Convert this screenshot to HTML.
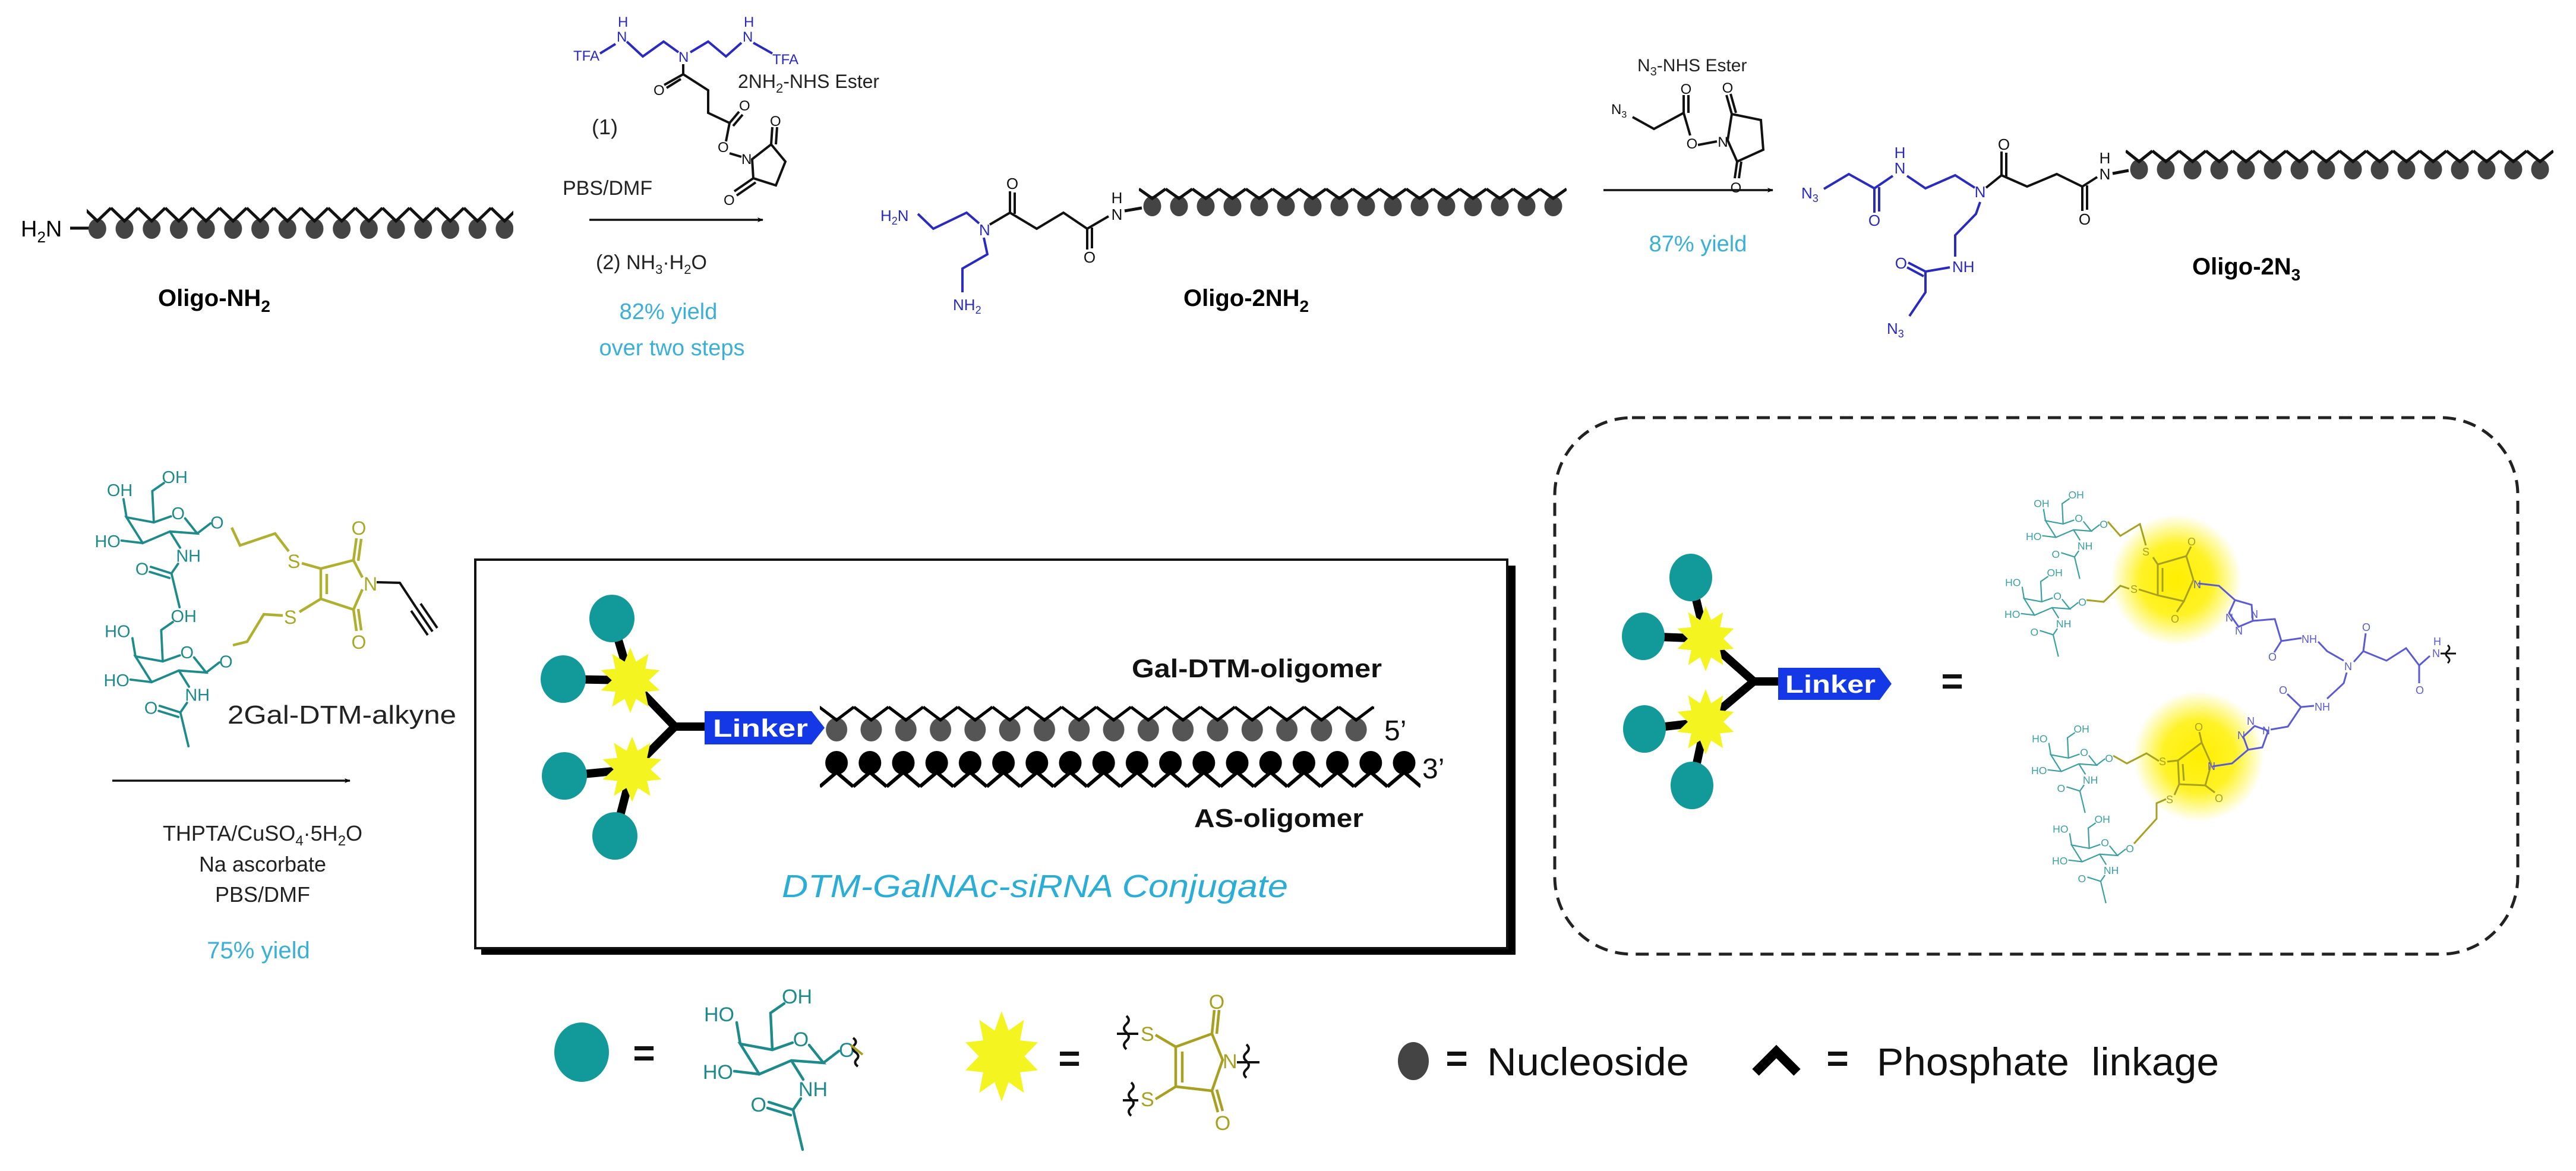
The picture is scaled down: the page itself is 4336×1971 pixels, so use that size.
<!DOCTYPE html>
<html><head><meta charset="utf-8"><style>
html,body{margin:0;padding:0;background:#fff;}
svg{display:block;}
text{font-family:"Liberation Sans",Arial,sans-serif;}
</style></head><body>
<svg width="4336" height="1971" viewBox="0 0 4336 1971" xmlns="http://www.w3.org/2000/svg">
<defs>
<pattern id="c1" patternUnits="userSpaceOnUse" x="141" y="0" width="45.7" height="1971">
<ellipse cx="22.85" cy="385" rx="15" ry="17" fill="#444"/>
<polyline points="0,350 22.85,372 45.7,350" fill="none" stroke="#111" stroke-width="5"/>
</pattern>
<pattern id="c2" patternUnits="userSpaceOnUse" x="1917" y="0" width="45" height="1971">
<ellipse cx="22.5" cy="347" rx="15" ry="17" fill="#444"/>
<polyline points="0,318 22.5,334 45,318" fill="none" stroke="#111" stroke-width="5"/>
</pattern>
<pattern id="c3" patternUnits="userSpaceOnUse" x="3578" y="0" width="45" height="1971">
<ellipse cx="22.5" cy="285" rx="15" ry="17" fill="#444"/>
<polyline points="0,254 22.5,272 45,254" fill="none" stroke="#111" stroke-width="5"/>
</pattern>
<pattern id="c4" patternUnits="userSpaceOnUse" x="1379" y="0" width="58.3" height="1971">
<ellipse cx="29.15" cy="1228" rx="18" ry="20" fill="#555"/>
<polyline points="0,1190 29.15,1212 58.3,1190" fill="none" stroke="#000" stroke-width="5"/>
</pattern>
<pattern id="c5" patternUnits="userSpaceOnUse" x="1380" y="0" width="56.2" height="1971">
<ellipse cx="28.1" cy="1284" rx="19" ry="20" fill="#000"/>
<polyline points="0,1324 28.1,1300 56.2,1324" fill="none" stroke="#000" stroke-width="6"/>
</pattern>
<radialGradient id="glow">
<stop offset="0" stop-color="#ffee00" stop-opacity="1"/>
<stop offset="0.55" stop-color="#fff000" stop-opacity="0.85"/>
<stop offset="1" stop-color="#fff200" stop-opacity="0"/>
</radialGradient>
<marker id="ah" markerWidth="10" markerHeight="8" refX="9" refY="4" orient="auto" markerUnits="userSpaceOnUse" viewBox="0 0 10 8">
<path d="M0,0 L10,4 L0,8 L2.5,4 Z" fill="#000"/>
</marker>
</defs>

<!-- ===== Top row ===== -->
<text x="35" y="398" font-size="38">H<tspan font-size="26" dy="10">2</tspan><tspan dy="-10">N</tspan></text>
<line x1="118" y1="384" x2="150" y2="384" stroke="#111" stroke-width="5"/>
<rect x="146" y="340" width="718" height="70" fill="url(#c1)"/>
<text x="266" y="515" font-size="40" font-weight="bold">Oligo-NH<tspan font-size="28" dy="10">2</tspan></text>

<!-- 2NH2-NHS ester -->
<g fill="#2a2ac0" font-size="24">
<text x="965" y="102">TFA</text><text x="1038" y="70">N</text><text x="1040" y="45">H</text>
<text x="1142" y="104">N</text>
<text x="1250" y="70">N</text><text x="1252" y="45">H</text><text x="1300" y="108">TFA</text>
</g>
<g stroke="#2a2ac0" stroke-width="4" fill="none">
<polyline points="1010,90 1036,74"/>
<polyline points="1055,70 1082,95 1117,70 1142,88"/>
<polyline points="1162,88 1192,70 1222,95 1248,72"/>
<polyline points="1268,72 1300,90"/>
</g>
<g stroke="#111" stroke-width="4" fill="none">
<polyline points="1150,108 1150,125 1192,152 1192,190 1228,207"/>
<line x1="1150" y1="125" x2="1118" y2="143"/><line x1="1146" y1="133" x2="1122" y2="148"/>
<line x1="1228" y1="207" x2="1244" y2="188"/><line x1="1234" y1="212" x2="1250" y2="193"/>
<polyline points="1228,207 1222,238"/>
<polyline points="1228,258 1248,264"/>
<polygon points="1266,268 1298,243 1322,272 1306,312 1268,300"/>
<line x1="1298" y1="243" x2="1300" y2="214"/><line x1="1306" y1="243" x2="1308" y2="214"/>
<line x1="1268" y1="300" x2="1236" y2="322"/><line x1="1272" y1="307" x2="1240" y2="329"/>
</g>
<g fill="#111" font-size="24">
<text x="1100" y="160">O</text><text x="1244" y="186">O</text><text x="1208" y="256">O</text>
<text x="1248" y="276">N</text><text x="1296" y="212">O</text><text x="1218" y="345">O</text>
</g>
<text x="1242" y="148" font-size="32" fill="#222">2NH<tspan font-size="22" dy="8">2</tspan><tspan dy="-8">-NHS Ester</tspan></text>
<text x="996" y="226" font-size="36" fill="#222">(1)</text>
<text x="947" y="328" font-size="34" fill="#222">PBS/DMF</text>
<line x1="992" y1="370" x2="1284" y2="370" stroke="#111" stroke-width="3.5" marker-end="url(#ah)"/>
<text x="1003" y="453" font-size="34" fill="#222">(2) NH<tspan font-size="22" dy="8">3</tspan><tspan dy="-8">·H</tspan><tspan font-size="22" dy="8">2</tspan><tspan dy="-8">O</tspan></text>
<text x="1125" y="537" font-size="38" fill="#3ab0d8" text-anchor="middle">82% yield</text>
<text x="1131" y="598" font-size="38" fill="#3ab0d8" text-anchor="middle">over two steps</text>

<!-- Oligo-2NH2 -->
<g fill="#2a2ac0" font-size="26">
<text x="1482" y="372">H<tspan font-size="18" dy="6">2</tspan><tspan dy="-6">N</tspan></text>
<text x="1648" y="396">N</text>
<text x="1604" y="522">NH<tspan font-size="18" dy="6">2</tspan></text>
</g>
<g stroke="#2a2ac0" stroke-width="4" fill="none">
<polyline points="1545,360 1571,385 1627,358 1648,376"/>
<polyline points="1656,400 1662,428 1620,452 1620,492"/>
</g>
<g stroke="#111" stroke-width="4" fill="none">
<polyline points="1666,378 1700,358 1745,385 1790,358 1830,385 1866,364"/>
<line x1="1700" y1="358" x2="1700" y2="322"/><line x1="1708" y1="360" x2="1708" y2="324"/>
<line x1="1830" y1="385" x2="1830" y2="420"/><line x1="1838" y1="383" x2="1838" y2="418"/>
<line x1="1893" y1="355" x2="1922" y2="350" stroke-width="5"/>
</g>
<g fill="#111" font-size="26">
<text x="1704" y="318" text-anchor="middle">O</text><text x="1834" y="442" text-anchor="middle">O</text>
<text x="1880" y="370" text-anchor="middle">N</text><text x="1880" y="342" text-anchor="middle">H</text>
</g>
<rect x="1917" y="305" width="720" height="70" fill="url(#c2)"/>
<text x="1992" y="515" font-size="40" font-weight="bold">Oligo-2NH<tspan font-size="28" dy="10">2</tspan></text>

<!-- N3-NHS ester -->
<text x="2756" y="120" font-size="30" fill="#222">N<tspan font-size="20" dy="7">3</tspan><tspan dy="-7">-NHS Ester</tspan></text>
<g stroke="#111" stroke-width="4" fill="none">
<polyline points="2748,197 2784,217 2834,190"/>
<line x1="2834" y1="190" x2="2834" y2="160"/><line x1="2842" y1="190" x2="2842" y2="160"/>
<line x1="2834" y1="190" x2="2845" y2="228"/>
<line x1="2858" y1="244" x2="2890" y2="238"/>
<polygon points="2908,236 2915,192 2964,202 2968,252 2924,272"/>
<line x1="2915" y1="192" x2="2906" y2="160"/><line x1="2922" y1="190" x2="2913" y2="158"/>
<line x1="2924" y1="272" x2="2920" y2="300"/><line x1="2931" y1="272" x2="2927" y2="300"/>
</g>
<g fill="#111" font-size="24">
<text x="2712" y="192">N<tspan font-size="16" dy="6">3</tspan></text>
<text x="2838" y="158" text-anchor="middle">O</text><text x="2848" y="250" text-anchor="middle">O</text>
<text x="2900" y="247" text-anchor="middle">N</text><text x="2908" y="156" text-anchor="middle">O</text>
<text x="2922" y="324" text-anchor="middle">O</text>
</g>
<line x1="2699" y1="320" x2="2984" y2="320" stroke="#111" stroke-width="3.5" marker-end="url(#ah)"/>
<text x="2858" y="423" font-size="38" fill="#3ab0d8" text-anchor="middle">87% yield</text>

<!-- Oligo-2N3 -->
<g fill="#2a2ac0" font-size="26">
<text x="3032" y="334">N<tspan font-size="18" dy="6">3</tspan></text>
<text x="3155" y="380" text-anchor="middle">O</text>
<text x="3198" y="292" text-anchor="middle">N</text><text x="3198" y="266" text-anchor="middle">H</text>
<text x="3333" y="332" text-anchor="middle">N</text>
<text x="3286" y="458">NH</text>
<text x="3210" y="452" text-anchor="end">O</text>
<text x="3176" y="562">N<tspan font-size="18" dy="6">3</tspan></text>
</g>
<g stroke="#2a2ac0" stroke-width="4" fill="none">
<polyline points="3070,318 3112,293 3155,317 3186,296"/>
<line x1="3155" y1="317" x2="3155" y2="358"/><line x1="3163" y1="315" x2="3163" y2="356"/>
<polyline points="3210,296 3241,317 3291,295 3324,316"/>
<polyline points="3333,340 3326,360 3291,396 3291,432"/>
<polyline points="3282,450 3241,457 3241,492 3214,532"/>
<line x1="3241" y1="457" x2="3212" y2="442"/><line x1="3238" y1="465" x2="3210" y2="450"/>
</g>
<g stroke="#111" stroke-width="4" fill="none">
<polyline points="3343,316 3369,295 3412,314 3462,293 3505,314 3530,298"/>
<line x1="3369" y1="295" x2="3369" y2="255"/><line x1="3377" y1="297" x2="3377" y2="257"/>
<line x1="3505" y1="314" x2="3505" y2="355"/><line x1="3513" y1="312" x2="3513" y2="353"/>
<line x1="3556" y1="292" x2="3583" y2="287" stroke-width="5"/>
</g>
<g fill="#111" font-size="26">
<text x="3373" y="252" text-anchor="middle">O</text><text x="3509" y="378" text-anchor="middle">O</text>
<text x="3543" y="302" text-anchor="middle">N</text><text x="3543" y="275" text-anchor="middle">H</text>
</g>
<rect x="3578" y="240" width="720" height="70" fill="url(#c3)"/>
<text x="3690" y="462" font-size="40" font-weight="bold">Oligo-2N<tspan font-size="28" dy="10">3</tspan></text>

<!-- ===== 2Gal-DTM-alkyne ===== -->
<g transform="translate(332,898) scale(0.85)">
<g stroke="#1d8b8b" stroke-width="4.5" fill="none" stroke-linecap="round">
<polyline points="-24,-30 0,0 -54,-4 -108,19 -140,-32 -86,-22 -52,-34"/>
<line x1="-140" y1="-32" x2="-146" y2="-68"/><line x1="-108" y1="19" x2="-150" y2="14"/>
<polyline points="-86,-22 -89,-84 -66,-100"/><line x1="-54" y1="-4" x2="-34" y2="28"/>
<polyline points="-38,60 -51,79 -35,146"/>
<line x1="-51" y1="79" x2="-92" y2="66"/><line x1="-55" y1="88" x2="-94" y2="76"/>
<line x1="0" y1="0" x2="26" y2="-20"/></g>
<g fill="#1d8b8b" font-size="34"><text x="-38" y="-28" text-anchor="middle">O</text><text x="-128" y="-74" text-anchor="end">OH</text><text x="-152" y="27" text-anchor="end">HO</text><text x="-70" y="-100">OH</text><text x="-42" y="56">NH</text><text x="-96" y="82" text-anchor="end">O</text><text x="26" y="-10">O</text></g>
</g>
<g transform="translate(347,1132) scale(0.85)">
<g stroke="#1d8b8b" stroke-width="4.5" fill="none" stroke-linecap="round">
<polyline points="-24,-30 0,0 -54,-4 -108,19 -140,-32 -86,-22 -52,-34"/>
<line x1="-140" y1="-32" x2="-146" y2="-68"/><line x1="-108" y1="19" x2="-150" y2="14"/>
<polyline points="-86,-22 -89,-84 -66,-100"/><line x1="-54" y1="-4" x2="-34" y2="28"/>
<polyline points="-38,60 -51,79 -35,146"/>
<line x1="-51" y1="79" x2="-92" y2="66"/><line x1="-55" y1="88" x2="-94" y2="76"/>
<line x1="0" y1="0" x2="26" y2="-20"/></g>
<g fill="#1d8b8b" font-size="34"><text x="-38" y="-28" text-anchor="middle">O</text><text x="-150" y="-70" text-anchor="end">HO</text><text x="-152" y="27" text-anchor="end">HO</text><text x="-70" y="-100">OH</text><text x="-42" y="56">NH</text><text x="-96" y="82" text-anchor="end">O</text><text x="26" y="-10">O</text></g>
</g>
<g stroke="#b0b030" stroke-width="4.5" fill="none">
<polyline points="390,888 404,918 463,898 486,928"/>
<polyline points="508,948 540,957 595,943 610,972"/>
<polyline points="610,992 595,1026 540,1008 540,957"/>
<line x1="550" y1="966" x2="550" y2="1000"/>
<line x1="595" y1="943" x2="600" y2="906"/><line x1="603" y1="944" x2="608" y2="907"/>
<line x1="595" y1="1026" x2="600" y2="1062"/><line x1="603" y1="1025" x2="608" y2="1061"/>
<polyline points="540,1008 504,1030"/>
<polyline points="476,1036 444,1034 416,1080 392,1086"/>
</g>
<g fill="#a8a828" font-size="32">
<text x="484" y="956">S</text><text x="604" y="900" text-anchor="middle">O</text>
<text x="612" y="994">N</text><text x="604" y="1092" text-anchor="middle">O</text>
<text x="478" y="1050">S</text>
</g>
<g stroke="#111" stroke-width="4" fill="none">
<polyline points="634,980 673,981 700,1022"/>
<line x1="700" y1="1022" x2="728" y2="1063"/><line x1="692" y1="1028" x2="720" y2="1069"/><line x1="708" y1="1016" x2="736" y2="1057"/>
</g>
<text x="383" y="1218" font-size="44" fill="#222" textLength="385" lengthAdjust="spacingAndGlyphs">2Gal-DTM-alkyne</text>
<line x1="189" y1="1314" x2="589" y2="1314" stroke="#111" stroke-width="3.5" marker-end="url(#ah)"/>
<g font-size="36" fill="#222" text-anchor="middle">
<text x="442" y="1415">THPTA/CuSO<tspan font-size="24" dy="8">4</tspan><tspan dy="-8">·5H</tspan><tspan font-size="24" dy="8">2</tspan><tspan dy="-8">O</tspan></text>
<text x="442" y="1467">Na ascorbate</text>
<text x="442" y="1518">PBS/DMF</text>
<text x="435" y="1613" fill="#3ab0d8" font-size="40">75% yield</text>
</g>

<!-- ===== Conjugate box ===== -->
<rect x="810" y="952" width="1741" height="655" fill="#000"/>
<rect x="800" y="942" width="1737" height="654" fill="#fff" stroke="#111" stroke-width="4"/>
<g stroke="#000" stroke-width="14" stroke-linecap="round">
<line x1="1030" y1="1041" x2="1061" y2="1145"/><line x1="948" y1="1143" x2="1061" y2="1145"/>
<line x1="950" y1="1306" x2="1064" y2="1295"/><line x1="1035" y1="1407" x2="1064" y2="1295"/>
<polyline points="1061,1145 1136,1223 1064,1295" fill="none"/><line x1="1136" y1="1223" x2="1195" y2="1223"/>
</g>
<g fill="#129a9a">
<ellipse cx="1030" cy="1041" rx="38" ry="40"/><ellipse cx="948" cy="1143" rx="38" ry="40"/>
<ellipse cx="950" cy="1306" rx="38" ry="40"/><ellipse cx="1035" cy="1407" rx="38" ry="40"/>
</g>
<g fill="#f4f420">
<polygon transform="translate(1061,1145) scale(0.52,0.55)" points="0,-100 18.5,-57.1 58.8,-80.9 48.5,-35.3 95.1,-30.9 60,0 95.1,30.9 48.5,35.3 58.8,80.9 18.5,57.1 0,100 -18.5,57.1 -58.8,80.9 -48.5,35.3 -95.1,30.9 -60,0 -95.1,-30.9 -48.5,-35.3 -58.8,-80.9 -18.5,-57.1"/>
<polygon transform="translate(1064,1295) scale(0.52,0.55)" points="0,-100 18.5,-57.1 58.8,-80.9 48.5,-35.3 95.1,-30.9 60,0 95.1,30.9 48.5,35.3 58.8,80.9 18.5,57.1 0,100 -18.5,57.1 -58.8,80.9 -48.5,35.3 -95.1,30.9 -60,0 -95.1,-30.9 -48.5,-35.3 -58.8,-80.9 -18.5,-57.1"/>
</g>
<path d="M1186,1197 H1366 L1388,1225 L1366,1253 H1186 Z" fill="#1438e6"/>
<text x="1200" y="1240" font-size="42" font-weight="bold" fill="#fff" textLength="160" lengthAdjust="spacingAndGlyphs">Linker</text>
<rect x="1380" y="1180" width="933" height="70" fill="url(#c4)"/>
<rect x="1380" y="1260" width="1011" height="75" fill="url(#c5)"/>
<text x="1905" y="1140" font-size="44" font-weight="bold" fill="#111" textLength="421" lengthAdjust="spacingAndGlyphs">Gal-DTM-oligomer</text>
<text x="2330" y="1246" font-size="48" fill="#111">5’</text>
<text x="2394" y="1310" font-size="48" fill="#111">3’</text>
<text x="2010" y="1392" font-size="44" font-weight="bold" fill="#111" textLength="285" lengthAdjust="spacingAndGlyphs">AS-oligomer</text>
<text x="1316" y="1510" font-size="54" font-style="italic" fill="#2aaed8" textLength="852" lengthAdjust="spacingAndGlyphs">DTM-GalNAc-siRNA Conjugate</text>

<!-- ===== Dashed box ===== -->
<rect x="2617" y="703" width="1621" height="903" rx="130" ry="130" fill="none" stroke="#222" stroke-width="5" stroke-dasharray="22 13"/>
<g stroke="#000" stroke-width="14" stroke-linecap="round">
<line x1="2846" y1="972" x2="2871" y2="1075"/><line x1="2766" y1="1071" x2="2871" y2="1075"/>
<line x1="2768" y1="1227" x2="2871" y2="1215"/><line x1="2848" y1="1322" x2="2871" y2="1215"/>
<polyline points="2871,1075 2952,1147 2871,1215" fill="none"/><line x1="2952" y1="1147" x2="3000" y2="1147"/>
</g>
<g fill="#129a9a">
<ellipse cx="2846" cy="972" rx="36" ry="40"/><ellipse cx="2766" cy="1071" rx="36" ry="40"/>
<ellipse cx="2768" cy="1227" rx="36" ry="40"/><ellipse cx="2848" cy="1322" rx="36" ry="40"/>
</g>
<g fill="#f4f420">
<polygon transform="translate(2871,1075) scale(0.5,0.55)" points="0,-100 18.5,-57.1 58.8,-80.9 48.5,-35.3 95.1,-30.9 60,0 95.1,30.9 48.5,35.3 58.8,80.9 18.5,57.1 0,100 -18.5,57.1 -58.8,80.9 -48.5,35.3 -95.1,30.9 -60,0 -95.1,-30.9 -48.5,-35.3 -58.8,-80.9 -18.5,-57.1"/>
<polygon transform="translate(2871,1215) scale(0.5,0.55)" points="0,-100 18.5,-57.1 58.8,-80.9 48.5,-35.3 95.1,-30.9 60,0 95.1,30.9 48.5,35.3 58.8,80.9 18.5,57.1 0,100 -18.5,57.1 -58.8,80.9 -48.5,35.3 -95.1,30.9 -60,0 -95.1,-30.9 -48.5,-35.3 -58.8,-80.9 -18.5,-57.1"/>
</g>
<path d="M2993,1124 H3164 L3184,1151 L3164,1178 H2993 Z" fill="#1438e6"/>
<text x="3005" y="1166" font-size="42" font-weight="bold" fill="#fff" textLength="152" lengthAdjust="spacingAndGlyphs">Linker</text>
<text x="3286" y="1168" font-size="64" font-weight="bold" fill="#111" text-anchor="middle">=</text>

<!-- glows -->
<circle cx="3663" cy="976" r="110" fill="url(#glow)"/>
<circle cx="3701" cy="1273" r="110" fill="url(#glow)"/>

<!-- small sugars -->
<g transform="translate(3520,894) scale(0.55)">
<g stroke="#3aa0a0" stroke-width="4" fill="none"><polyline points="-24,-30 0,0 -54,-4 -108,19 -140,-32 -86,-22 -52,-34"/><line x1="-140" y1="-32" x2="-146" y2="-68"/><line x1="-108" y1="19" x2="-150" y2="14"/><polyline points="-86,-22 -89,-84 -66,-100"/><line x1="-54" y1="-4" x2="-34" y2="28"/><polyline points="-38,60 -51,79 -35,146"/><line x1="-51" y1="79" x2="-92" y2="66"/><line x1="0" y1="0" x2="26" y2="-20"/></g>
<g fill="#3aa0a0" font-size="32"><text x="-38" y="-28" text-anchor="middle">O</text><text x="-128" y="-74" text-anchor="end">OH</text><text x="-152" y="27" text-anchor="end">HO</text><text x="-70" y="-100">OH</text><text x="-42" y="56">NH</text><text x="-96" y="82" text-anchor="end">O</text><text x="26" y="-10">O</text></g></g>
<g transform="translate(3484,1025) scale(0.55)">
<g stroke="#3aa0a0" stroke-width="4" fill="none"><polyline points="-24,-30 0,0 -54,-4 -108,19 -140,-32 -86,-22 -52,-34"/><line x1="-140" y1="-32" x2="-146" y2="-68"/><line x1="-108" y1="19" x2="-150" y2="14"/><polyline points="-86,-22 -89,-84 -66,-100"/><line x1="-54" y1="-4" x2="-34" y2="28"/><polyline points="-38,60 -51,79 -35,146"/><line x1="-51" y1="79" x2="-92" y2="66"/><line x1="0" y1="0" x2="26" y2="-20"/></g>
<g fill="#3aa0a0" font-size="32"><text x="-38" y="-28" text-anchor="middle">O</text><text x="-150" y="-70" text-anchor="end">HO</text><text x="-152" y="27" text-anchor="end">HO</text><text x="-70" y="-100">OH</text><text x="-42" y="56">NH</text><text x="-96" y="82" text-anchor="end">O</text><text x="26" y="-10">O</text></g></g>
<g transform="translate(3529,1288) scale(0.55)">
<g stroke="#3aa0a0" stroke-width="4" fill="none"><polyline points="-24,-30 0,0 -54,-4 -108,19 -140,-32 -86,-22 -52,-34"/><line x1="-140" y1="-32" x2="-146" y2="-68"/><line x1="-108" y1="19" x2="-150" y2="14"/><polyline points="-86,-22 -89,-84 -66,-100"/><line x1="-54" y1="-4" x2="-34" y2="28"/><polyline points="-38,60 -51,79 -35,146"/><line x1="-51" y1="79" x2="-92" y2="66"/><line x1="0" y1="0" x2="26" y2="-20"/></g>
<g fill="#3aa0a0" font-size="32"><text x="-38" y="-28" text-anchor="middle">O</text><text x="-150" y="-70" text-anchor="end">HO</text><text x="-152" y="27" text-anchor="end">HO</text><text x="-70" y="-100">OH</text><text x="-42" y="56">NH</text><text x="-96" y="82" text-anchor="end">O</text><text x="26" y="-10">O</text></g></g>
<g transform="translate(3564,1440) scale(0.55)">
<g stroke="#3aa0a0" stroke-width="4" fill="none"><polyline points="-24,-30 0,0 -54,-4 -108,19 -140,-32 -86,-22 -52,-34"/><line x1="-140" y1="-32" x2="-146" y2="-68"/><line x1="-108" y1="19" x2="-150" y2="14"/><polyline points="-86,-22 -89,-84 -66,-100"/><line x1="-54" y1="-4" x2="-34" y2="28"/><polyline points="-38,60 -51,79 -35,146"/><line x1="-51" y1="79" x2="-92" y2="66"/><line x1="0" y1="0" x2="26" y2="-20"/></g>
<g fill="#3aa0a0" font-size="32"><text x="-38" y="-28" text-anchor="middle">O</text><text x="-150" y="-70" text-anchor="end">HO</text><text x="-152" y="27" text-anchor="end">HO</text><text x="-70" y="-100">OH</text><text x="-42" y="56">NH</text><text x="-96" y="82" text-anchor="end">O</text><text x="26" y="-10">O</text></g></g>

<!-- DTM rings + S linkers -->
<g stroke="#a8a020" stroke-width="3" fill="none">
<polyline points="3548,878 3569,902 3602,882 3612,918"/>
<polyline points="3512,1010 3541,1013 3569,986 3584,991"/>
<polyline points="3557,1272 3580,1285 3613,1268 3634,1281"/>
<polyline points="3592,1420 3630,1378 3630,1352 3646,1345"/>
<polygon points="3632,950 3680,936 3692,976 3676,1012 3632,1002"/>
<line x1="3640" y1="956" x2="3640" y2="996"/>
<line x1="3680" y1="936" x2="3688" y2="920"/><line x1="3676" y1="1012" x2="3664" y2="1030"/>
<line x1="3624" y1="938" x2="3632" y2="950"/><line x1="3600" y1="992" x2="3632" y2="1002"/>
<polygon points="3666,1280 3706,1250 3722,1286 3712,1322 3668,1320"/>
<line x1="3674" y1="1286" x2="3676" y2="1314"/>
<line x1="3706" y1="1250" x2="3702" y2="1232"/><line x1="3712" y1="1322" x2="3728" y2="1334"/>
<line x1="3648" y1="1282" x2="3666" y2="1280"/><line x1="3660" y1="1338" x2="3668" y2="1320"/>
</g>
<g fill="#a8a020" font-size="18">
<text x="3606" y="935">S</text><text x="3586" y="998">S</text><text x="3682" y="918">O</text><text x="3654" y="1048">O</text>
<text x="3634" y="1288">S</text><text x="3646" y="1352">S</text><text x="3694" y="1230">O</text><text x="3728" y="1350">O</text>
</g>
<!-- blue linker -->
<g stroke="#5a5ad6" stroke-width="3" fill="none">
<polyline points="3700,982 3735,986 3762,1010"/>
<polygon points="3762,1010 3790,1018 3792,1045 3768,1055 3752,1032"/>
<polyline points="3792,1045 3829,1042 3840,1079 3874,1074"/>
<line x1="3840" y1="1079" x2="3828" y2="1098"/>
<polyline points="3902,1080 3917,1096 3945,1112"/>
<polyline points="3962,1114 3978,1096 4017,1112 4050,1091 4072,1120 4090,1104"/>
<line x1="3978" y1="1096" x2="3982" y2="1066"/><line x1="4072" y1="1120" x2="4072" y2="1150"/>
<polyline points="3950,1132 3945,1150 3917,1176"/>
<polyline points="3895,1188 3873,1190 3851,1223 3822,1228"/>
<line x1="3873" y1="1190" x2="3850" y2="1168"/>
<polygon points="3818,1230 3795,1222 3776,1240 3784,1262 3808,1258"/>
<polyline points="3784,1262 3757,1285 3724,1290"/>
<path d="M4120,1086 q6,5 0,10 q-6,5 0,10 q6,5 0,10" stroke="#111"/>
<line x1="4108" y1="1100" x2="4134" y2="1100" stroke="#111"/>
</g>
<g fill="#5a5ad6" font-size="18">
<text x="3692" y="990">N</text><text x="3746" y="1046">N</text><text x="3762" y="1068">N</text><text x="3788" y="1040">N</text>
<text x="3818" y="1112">O</text><text x="3874" y="1082">NH</text><text x="3946" y="1128">N</text>
<text x="3976" y="1062">O</text><text x="4066" y="1168">O</text><text x="4094" y="1106">N</text><text x="4096" y="1086">H</text>
<text x="3896" y="1196">NH</text><text x="3836" y="1168">O</text>
<text x="3808" y="1236">N</text><text x="3782" y="1220">N</text><text x="3766" y="1244">N</text><text x="3716" y="1296">N</text>
</g>

<!-- ===== Legend ===== -->
<ellipse cx="979" cy="1771" rx="46" ry="50" fill="#129a9a"/>
<text x="1084" y="1794" font-size="64" font-weight="bold" fill="#111" text-anchor="middle">=</text>
<g transform="translate(1386,1789)">
<g stroke="#1d8b8b" stroke-width="4.5" fill="none" stroke-linecap="round">
<polyline points="-24,-30 0,0 -54,-4 -108,19 -140,-32 -86,-22 -52,-34"/>
<line x1="-140" y1="-32" x2="-146" y2="-68"/><line x1="-108" y1="19" x2="-150" y2="14"/>
<polyline points="-86,-22 -89,-84 -66,-100"/><line x1="-54" y1="-4" x2="-34" y2="28"/>
<polyline points="-38,60 -51,79 -35,146"/>
<line x1="-51" y1="79" x2="-92" y2="66"/><line x1="-55" y1="88" x2="-94" y2="76"/>
<line x1="0" y1="0" x2="26" y2="-20"/></g>
<g fill="#1d8b8b" font-size="34"><text x="-38" y="-28" text-anchor="middle">O</text><text x="-150" y="-70" text-anchor="end">HO</text><text x="-152" y="27" text-anchor="end">HO</text><text x="-70" y="-100">OH</text><text x="-42" y="56">NH</text><text x="-96" y="82" text-anchor="end">O</text><text x="26" y="-10">O</text></g>
<path d="M50,-42 q8,6 2,12 q-6,6 2,12 q8,6 2,12 q-6,6 2,12" stroke="#111" stroke-width="4" fill="none"/>
<line x1="46" y1="-30" x2="66" y2="-14" stroke="#a8a020" stroke-width="4"/>
</g>
<polygon fill="#f4f420" transform="translate(1686,1778) scale(0.64,0.76)" points="0,-100 18.5,-57.1 58.8,-80.9 48.5,-35.3 95.1,-30.9 60,0 95.1,30.9 48.5,35.3 58.8,80.9 18.5,57.1 0,100 -18.5,57.1 -58.8,80.9 -48.5,35.3 -95.1,30.9 -60,0 -95.1,-30.9 -48.5,-35.3 -58.8,-80.9 -18.5,-57.1"/>
<text x="1800" y="1803" font-size="64" font-weight="bold" fill="#111" text-anchor="middle">=</text>
<g stroke="#a8a020" stroke-width="4.5" fill="none">
<line x1="1945" y1="1742" x2="1979" y2="1762"/><line x1="1945" y1="1850" x2="1979" y2="1829"/>
<polygon points="1979,1762 2040,1740 2058,1784 2040,1836 1979,1829"/>
<line x1="1990" y1="1770" x2="1990" y2="1822"/>
<line x1="2040" y1="1740" x2="2044" y2="1700"/><line x1="2048" y1="1740" x2="2052" y2="1700"/>
<line x1="2040" y1="1836" x2="2050" y2="1872"/><line x1="2048" y1="1834" x2="2058" y2="1870"/>
</g>
<g fill="#a8a020" font-size="34">
<text x="1920" y="1752">S</text><text x="1920" y="1862">S</text><text x="2048" y="1698" text-anchor="middle">O</text>
<text x="2058" y="1798">N</text><text x="2058" y="1902" text-anchor="middle">O</text>
</g>
<g stroke="#111" stroke-width="4" fill="none">
<line x1="1880" y1="1740" x2="1916" y2="1740"/><path d="M1896,1710 q8,7 0,14 q-8,7 0,14 q8,7 0,14 q-8,7 0,14"/>
<line x1="1890" y1="1852" x2="1916" y2="1852"/><path d="M1904,1822 q8,7 0,14 q-8,7 0,14 q8,7 0,14 q-8,7 0,14"/>
<line x1="2082" y1="1788" x2="2120" y2="1788"/><path d="M2098,1758 q8,7 0,14 q-8,7 0,14 q8,7 0,14 q-8,7 0,14"/>
</g>
<ellipse cx="2379" cy="1786" rx="26" ry="32" fill="#444"/>
<text x="2452" y="1803" font-size="64" font-weight="bold" fill="#111" text-anchor="middle">=</text>
<text x="2503" y="1810" font-size="66" fill="#111" textLength="340" lengthAdjust="spacingAndGlyphs">Nucleoside</text>
<polyline points="2955,1805 2990,1770 3025,1805" fill="none" stroke="#000" stroke-width="16"/>
<text x="3093" y="1803" font-size="64" font-weight="bold" fill="#111" text-anchor="middle">=</text>
<text x="3159" y="1810" font-size="66" fill="#111" textLength="576" lengthAdjust="spacingAndGlyphs" xml:space="preserve">Phosphate  linkage</text>
</svg>
</body></html>
